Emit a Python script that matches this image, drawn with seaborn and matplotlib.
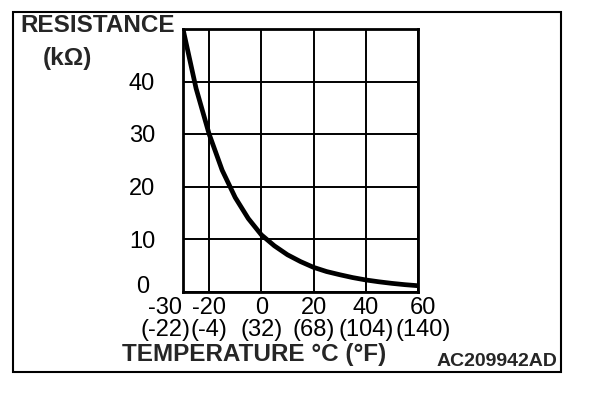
import matplotlib
matplotlib.use("Agg")
import matplotlib.pyplot as plt
import matplotlib.transforms as mtransforms
from matplotlib.patches import Rectangle
import seaborn as sns

# values (every 5 degC)
temp_c = [-30, -25, -20, -15, -10, -5, 0, 5, 10, 15, 20, 25, 30, 35, 40, 45, 50, 55, 60]
resistance_kohm = [50, 38.7, 30, 23.1, 17.9, 13.9, 10.8, 8.7, 7.0, 5.7, 4.6,
                   3.8, 3.2, 2.65, 2.2, 1.85, 1.55, 1.3, 1.1]

x_ticks = [-30, -20, 0, 20, 40, 60]
x_ticklabels_f = ["(-22)", "(-4)", "(32)", "(68)", "(104)", "(140)"]
y_ticks = [0, 10, 20, 30, 40]

sns.set_style("white")
plt.rcParams["font.family"] = ["Liberation Sans", "DejaVu Sans"]
plt.rcParams["axes.unicode_minus"] = False

fig = plt.figure(figsize=(6.08, 3.94), dpi=100)
ax = fig.add_axes([183 / 608, 1 - 291.5 / 394, 235 / 608, 262.5 / 394])

sns.lineplot(x=temp_c, y=resistance_kohm, color="black", linewidth=3.4, ax=ax)

ax.set_xlim(-30, 60)
ax.set_ylim(0, 50)
ax.set_xticks(x_ticks)
ax.set_xticklabels([f"{c}\n{f}" for c, f in zip(x_ticks, x_ticklabels_f)],
                   fontsize=17, linespacing=0.97)
ax.set_yticks(y_ticks)
ax.set_yticklabels([str(v) for v in y_ticks], fontsize=17)
ax.tick_params(axis="both", length=0, colors="black")
ax.tick_params(axis="x", pad=4)
ax.tick_params(axis="y", pad=20)
ax.grid(True, color="black", linewidth=1.4)
for s in ax.spines.values():
    s.set_color("black")
    s.set_linewidth(2)

# nudge end labels like the original artwork
def shift(label, dx, dy):
    label.set_transform(label.get_transform() +
                        mtransforms.ScaledTranslation(dx / 100, dy / 100, fig.dpi_scale_trans))

xl = ax.get_xticklabels()
shift(xl[0], -18, 0)
shift(xl[-1], 5, 0)
yl = ax.get_yticklabels()
shift(yl[0], -6, 7)

fig.text(20 / 608, 1 - 26 / 394, "RESISTANCE", fontsize=17.5, fontweight="bold", va="center", ha="left")
fig.text(67 / 608, 1 - 58 / 394, "(k\u03a9)", fontsize=17.5, fontweight="bold", va="center", ha="center")
fig.text(254 / 608, 1 - 355 / 394, "TEMPERATURE \u00b0C (\u00b0F)", fontsize=17.5,
         fontweight="bold", va="center", ha="center")
fig.text(557 / 608, 1 - 362 / 394, "AC209942AD", fontsize=14, fontweight="bold",
         va="center", ha="right")

fig.patches.append(Rectangle((13 / 608, 1 - 372 / 394), 548 / 608, 360 / 394,
                             transform=fig.transFigure, fill=False,
                             edgecolor="black", linewidth=1.5))

fig.savefig("out.png", dpi=100)
